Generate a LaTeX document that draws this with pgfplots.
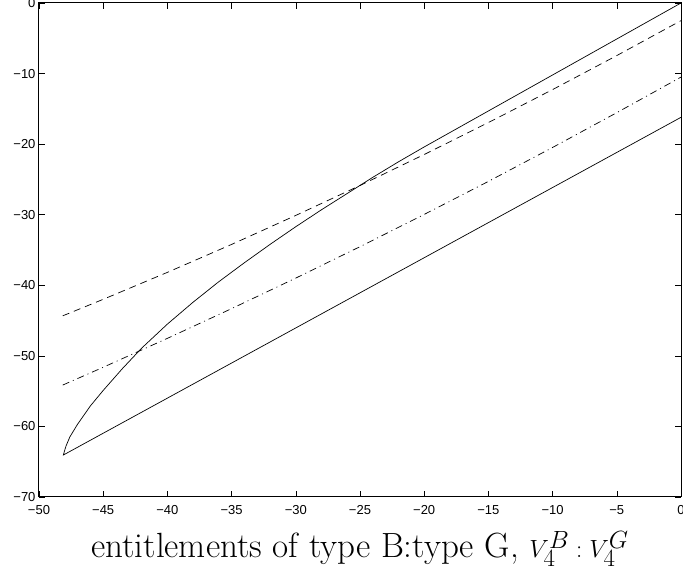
\documentclass[border=0pt]{standalone}
\usepackage{fontspec}
\usepackage{pgfplots}
\pgfplotsset{compat=1.18}
\newfontfamily\ticksf{Liberation Sans}

\begin{document}
\begin{tikzpicture}
\begin{axis}[
    name=ax,
    scale only axis,
    width=642pt, height=494pt,
    xmin=-50, xmax=0, ymin=-70, ymax=0,
    xtick={-50,-45,-40,-35,-30,-25,-20,-15,-10,-5,0},
    ytick={-70,-60,-50,-40,-30,-20,-10,0},
    xticklabels={−50,−45,−40,−35,−30,−25,−20,−15,−10,−5,0},
    yticklabels={−70,−60,−50,−40,−30,−20,−10,0},
    tick align=inside,
    major tick length=6pt,
    axis line style={line width=1pt},
    tick style={black, line width=0.6pt},
    tick label style={font=\ticksf\fontsize{13}{15}\selectfont},
    xticklabel style={anchor=base, yshift=-18pt},
    xlabel={entitlements of type B:type G, $V_4^B : V_4^G$},
    xlabel style={font=\fontsize{35}{40}\selectfont,
        at={(axis description cs:0.5,0)}, anchor=base, yshift=-61pt},
]
% solid loop: lower straight branch, then upper curved branch
\addplot[black, line width=0.7pt] coordinates {
    (0,-16.2) (-48.1,-64.05) (-48.05,-63.7) (-47.9,-62.8) (-47.6,-61.5)
    (-47,-59.7) (-46,-57.1) (-45,-54.9) (-43.5,-51.8) (-42,-48.9)
    (-40,-45.5) (-38,-42.4) (-36,-39.5) (-34,-36.8) (-32,-34.2)
    (-30,-31.7) (-28,-29.3) (-26,-27.0) (-24,-24.7) (-22,-22.5)
    (-20,-20.4) (-15,-15.3) (-10,-10.2) (-5,-5.1) (0,0)
};
% dashed
\addplot[black, line width=0.7pt, dash pattern=on 7pt off 5pt] coordinates {
    (-48.15,-44.33) (-45,-41.99) (-40,-38.17) (-35,-34.21) (-30,-30.10)
    (-25,-25.86) (-20,-21.47) (-15,-16.94) (-10,-12.27) (-5,-7.45) (0,-2.5)
};
% dash-dot
\addplot[black, line width=0.7pt, dash pattern=on 7pt off 4pt on 1pt off 4pt] coordinates {
    (-48.15,-54.14) (-45,-51.62) (-40,-47.52) (-35,-43.31) (-30,-38.98)
    (-25,-34.53) (-20,-29.96) (-15,-25.28) (-10,-20.47) (-5,-15.54) (0,-10.5)
};
\end{axis}
\pgfresetboundingbox
\path ([shift={(-39pt,-78pt)}]ax.south west) rectangle ([shift={(2pt,3pt)}]ax.north east);
\end{tikzpicture}
\end{document}
